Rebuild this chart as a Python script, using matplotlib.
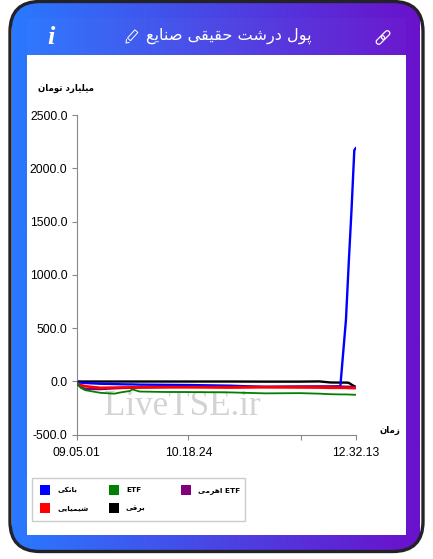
import numpy as np
import matplotlib
matplotlib.use('Agg')
import matplotlib.pyplot as plt
from matplotlib.colors import LinearSegmentedColormap
from matplotlib.patches import FancyBboxPatch, Rectangle
from matplotlib.transforms import Affine2D

# sample position on the time axis (0 = first sample, 100 = last)
sample_pos = [0, 1.5, 3, 8.5, 13.5, 16, 19, 20, 22.5, 31.5, 40.5, 55, 67.5, 80, 87, 91, 94.5, 96.5, 97.5, 98.5, 99.5, 100]

black_vals = [0, -1, -1, -1, -1, -1, -1, -1, -1, -1, -1, -1, -2, -2, 0, -10, -11, -11, -13, -30, -45, -50]
blue_vals = [-5, -12, -15, -22, -25, -27, -28, -28, -30, -32, -34, -40, -52, -50, -50, -50, -45, 576, 1110, 1608, 2170, 2188]
purple_vals = [-20, -55, -70, -72, -65, -62, -60, -60, -58, -55, -52, -50, -50, -48, -47, -47, -48, -50, -50, -52, -55, -55]
red_vals = [-15, -35, -45, -60, -58, -57, -56, -55, -55, -53, -55, -58, -55, -57, -58, -60, -60, -60, -62, -62, -63, -63]
green_vals = [-5, -60, -82, -107, -115, -102, -90, -75, -95, -99, -100, -103, -112, -110, -115, -120, -122, -122, -123, -124, -125, -125]

x_ticks = [0, 40, 80.5, 100]
x_tick_labels = ['09.05.01', '10.18.24', '', '12.32.13']
y_ticks = [-500, 0, 500, 1000, 1500, 2000, 2500]

# isolated, final, initial, medial
FORMS = {
    'پ': (0xFB56, 0xFB57, 0xFB58, 0xFB59), 'ب': (0xFE8F, 0xFE90, 0xFE91, 0xFE92),
    'ت': (0xFE95, 0xFE96, 0xFE97, 0xFE98), 'ح': (0xFEA1, 0xFEA2, 0xFEA3, 0xFEA4),
    'ش': (0xFEB5, 0xFEB6, 0xFEB7, 0xFEB8), 'ص': (0xFEB9, 0xFEBA, 0xFEBB, 0xFEBC),
    'ع': (0xFEC9, 0xFECA, 0xFECB, 0xFECC), 'ق': (0xFED5, 0xFED6, 0xFED7, 0xFED8),
    'ک': (0xFB8E, 0xFB8F, 0xFB90, 0xFB91), 'ل': (0xFEDD, 0xFEDE, 0xFEDF, 0xFEE0),
    'م': (0xFEE1, 0xFEE2, 0xFEE3, 0xFEE4), 'ن': (0xFEE5, 0xFEE6, 0xFEE7, 0xFEE8),
    'ه': (0xFEE9, 0xFEEA, 0xFEEB, 0xFEEC), 'ی': (0xFBFC, 0xFBFD, 0xFBFE, 0xFBFF),
    'ا': (0xFE8D, 0xFE8E), 'د': (0xFEA9, 0xFEAA), 'ر': (0xFEAD, 0xFEAE),
    'ز': (0xFEAF, 0xFEB0), 'و': (0xFEED, 0xFEEE),
}


def shape(text):
    # matplotlib does no arabic shaping, so pick the joined glyphs by hand
    out = []
    for i, ch in enumerate(text):
        if ch not in FORMS:
            out.append(ch)
            continue
        prev = text[i - 1] if i > 0 else ' '
        nxt = text[i + 1] if i + 1 < len(text) else ' '
        joins_prev = prev in FORMS and len(FORMS[prev]) == 4
        joins_next = nxt in FORMS and len(FORMS[ch]) == 4
        idx = {(False, False): 0, (True, False): 1, (False, True): 2, (True, True): 3}[(joins_prev, joins_next)]
        out.append(chr(FORMS[ch][idx]))
    # visual order: words right to left, latin words stay as they are
    words = []
    for w in ''.join(out).split(' '):
        words.append(w if w.isascii() else w[::-1])
    return ' '.join(words[::-1])


W, H = 433, 559
fig = plt.figure(figsize=(W / 100, H / 100), dpi=100, facecolor='white')

# background layer in pixel coordinates
bg = fig.add_axes([0, 0, 1, 1])
bg.set_xlim(0, W)
bg.set_ylim(H, 0)
bg.axis('off')

cmap = LinearSegmentedColormap.from_list('card', ['#2979ff', '#6a11cb'])
grad = np.linspace(0, 1, 256).reshape(1, -1)
card = FancyBboxPatch((10, 1.5), 413, 550, boxstyle='round,pad=0,rounding_size=30',
                      facecolor='none', edgecolor='#222228', lw=2.4, zorder=3)
bg.add_patch(card)
img = bg.imshow(grad, cmap=cmap, extent=(12, 420, H, 0), aspect='auto', zorder=1)
img.set_clip_path(card)
bg.set_xlim(0, W)
bg.set_ylim(H, 0)
bg.add_patch(Rectangle((27, 18), 379, 37, facecolor='white', alpha=0.025, edgecolor='none', zorder=2))
bg.add_patch(Rectangle((27, 55), 379, 480, facecolor='white', edgecolor='none', zorder=2))

bg.text(229, 35.5, shape('پول درشت حقیقی صنایع'), color='white', fontsize=11.6, family='DejaVu Sans',
        ha='center', va='center', zorder=4)
bg.text(51, 37, 'i', color='white', fontsize=19, family='Liberation Serif', style='italic', weight='bold',
        ha='center', va='center', zorder=4)

# pencil icon
pencil = Rectangle((-2, -6.5), 4, 11, facecolor='none', edgecolor='white', lw=0.7, zorder=4,
                   transform=Affine2D().rotate_deg(42).translate(132, 36) + bg.transData)
bg.add_patch(pencil)
bg.plot([126.5, 126, 129], [39.5, 43, 42.5], color='white', lw=0.7, zorder=4)

# link icon
for cx, cy in [(385.5, 35), (380.5, 40)]:
    link = FancyBboxPatch((-5, -2.5), 10, 5, boxstyle='round,pad=0,rounding_size=2.5', facecolor='none',
                          edgecolor='white', lw=0.9, zorder=4,
                          transform=Affine2D().rotate_deg(-45).translate(cx, cy) + bg.transData)
    bg.add_patch(link)

# chart
ax = fig.add_axes([76.7 / W, 1 - 434.7 / H, 279 / W, 319.7 / H])
ax.patch.set_alpha(0)
ax.set_xlim(0, 100)
ax.set_ylim(-500, 2500)

ax.text(37.8, -240, 'LiveTSE.ir', fontsize=25.2, family='Liberation Serif', color='#d3d3d3',
        ha='center', va='center', zorder=1)

ax.plot(sample_pos, black_vals, color='black', lw=1.7, zorder=2)
ax.plot(sample_pos, blue_vals, color='#0000ff', lw=1.7, zorder=3)
ax.plot(sample_pos, purple_vals, color='#800080', lw=1.7, zorder=4)
ax.plot(sample_pos, red_vals, color='#ff0000', lw=1.9, zorder=5)
ax.plot(sample_pos, green_vals, color='#008000', lw=1.3, zorder=6)

ax.spines['top'].set_visible(False)
ax.spines['right'].set_visible(False)
ax.spines['left'].set_color('#888888')
ax.spines['bottom'].set_color('#888888')
ax.set_xticks(x_ticks)
ax.set_xticklabels(x_tick_labels, family='Liberation Sans', fontsize=8.7)
ax.set_yticks(y_ticks)
ax.set_yticklabels(['%.1f' % v for v in y_ticks], family='Liberation Sans', fontsize=8.7)
ax.tick_params(axis='both', length=3.6, width=0.8, color='#888888', pad=3)
ax.tick_params(axis='x', pad=5.5)

bg.text(66.5, 88.5, shape('میلیارد تومان'), fontsize=6.2, weight='bold', family='DejaVu Sans', ha='center', va='center')
bg.text(389.5, 430, shape('زمان'), fontsize=6.2, weight='bold', family='DejaVu Sans', ha='center', va='center')

# legend
legend_names = ['بانکی', 'ETF', 'ETF اهرمی', 'شیمیایی', 'برقی']
legend_colors = ['#0000ff', '#008000', '#800080', '#ff0000', 'black']
legend_x = [40, 109, 181, 40, 109]
legend_y = [490, 490, 490, 508, 508]

bg.add_patch(Rectangle((31.5, 477.5), 213, 43, facecolor='white', edgecolor='#cccccc', lw=1, zorder=4))
for name, col, lx, ly in zip(legend_names, legend_colors, legend_x, legend_y):
    bg.add_patch(Rectangle((lx, ly - 5), 10, 10, facecolor=col, edgecolor='none', zorder=5))
    bg.text(lx + 17, ly + 0.5, shape(name), fontsize=5.3, weight='bold', family='DejaVu Sans',
            ha='left', va='center', zorder=5)

fig.savefig('out.png', dpi=100)
